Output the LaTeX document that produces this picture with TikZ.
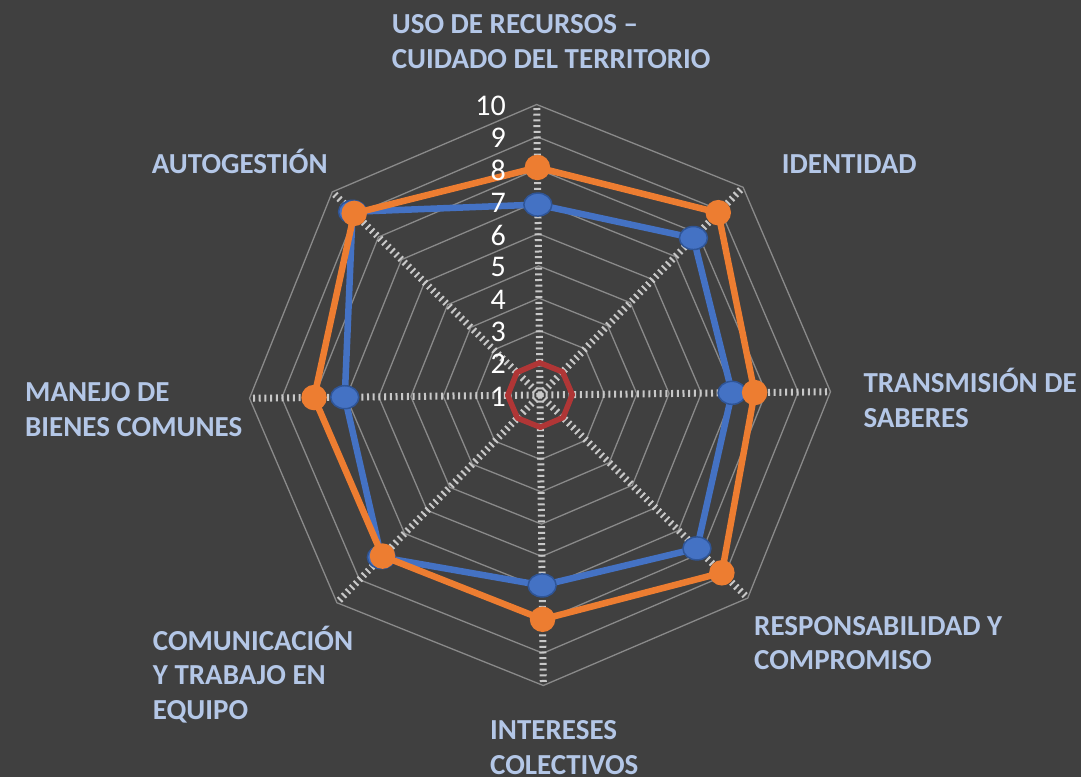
\documentclass[tikz,border=0pt]{standalone}
\usepackage{fontspec}
\setmainfont{Carlito}
\usetikzlibrary{shapes.geometric}
\definecolor{bgc}{HTML}{404040}
\definecolor{gridc}{HTML}{8A8A8A}
\definecolor{axisc}{HTML}{C8C8C8}
\definecolor{lblc}{HTML}{B4C7E7}
\definecolor{bluec}{HTML}{4472C4}
\definecolor{blueedge}{HTML}{2F5597}
\definecolor{orangec}{HTML}{ED7D31}
\definecolor{redc}{HTML}{B03636}
\newcommand{\lbltab}[1]{\begin{tabular}[t]{@{}l@{}}#1\end{tabular}}
\def\unitr{32.28}
\tikzset{
  gridline/.style={draw=gridc, line width=1.3pt},
  axisline/.style={draw=axisc, line width=7pt, dash pattern=on 2pt off 3.7pt},
  redline/.style={draw=redc, line width=5.5pt, line join=round},
  blueline/.style={draw=bluec, line width=6.5pt, line join=round},
  orangeline/.style={draw=orangec, line width=6.5pt, line join=round},
  bluemark/.style={ellipse, fill=bluec, draw=blueedge, line width=1.5pt, minimum width=28pt, minimum height=23pt, inner sep=0pt},
  orangemark/.style={circle, fill=orangec, minimum size=25.5pt, inner sep=0pt},
  lbl/.style={anchor=base west, inner sep=0pt, text=lblc, font=\bfseries\fontsize{29}{34.8}\selectfont},
  num/.style={anchor=east, inner sep=0pt, text=white, font=\fontsize{30}{31}\selectfont}
}
\begin{document}
\begin{tikzpicture}[x=1pt,y=1pt]
\useasboundingbox (0,0) rectangle (1081,777);
\fill[bgc] (0,0) rectangle (1081,777);
\begin{scope}[shift={(540,382)},rotate=0.65]
  \coordinate (ctr) at (0,0);
  % grid octagons
  \foreach \v in {2,...,10}{
    \draw[gridline] (90:{(\v-1)*\unitr}) \foreach \k in {1,...,7}{ -- ({90-45*\k}:{(\v-1)*\unitr}) } -- cycle;
  }
  % radial axes
  \foreach \k in {0,...,7}{
    \coordinate (ax\k) at ({90-45*\k}:{9*\unitr});
    \draw[axisline] (ctr) -- (ax\k);
  }
  % red series (all 2)
  \foreach \k in {0,...,7}{ \coordinate (r\k) at ({90-45*\k}:{\unitr}); }
  \draw[redline] (r0) -- (r1) -- (r2) -- (r3) -- (r4) -- (r5) -- (r6) -- (r7) -- cycle;
  % blue series
  \foreach \val [count=\k from 0] in {6.9,7.8,6.95,7.8,6.9,8.03,7.05,9.12}{
    \coordinate (b\k) at ({90-45*\k}:{(\val-1)*\unitr});
  }
  \draw[blueline] (b0) -- (b1) -- (b2) -- (b3) -- (b4) -- (b5) -- (b6) -- (b7) -- cycle;
  \foreach \k in {0,...,7}{ \node[bluemark] (bm\k) at (b\k) {}; }
  % orange series
  \foreach \val [count=\k from 0] in {8.05,8.9,7.65,8.88,7.95,7.98,8.0,9.05}{
    \coordinate (o\k) at ({90-45*\k}:{(\val-1)*\unitr});
  }
  \draw[orangeline] (o0) -- (o1) -- (o2) -- (o3) -- (o4) -- (o5) -- (o6) -- (o7) -- cycle;
  \foreach \k in {0,...,7}{ \node[orangemark] (om\k) at (o\k) {}; }
\end{scope}
% scale numbers
\foreach \v in {1,...,10}{
  \node[num] (n\v) at (506,{382+(\v-1)*32.28-1.5}) {\v};
}
% axis labels
\node[lbl] (t0) at (391.7,743.7) {\lbltab{USO DE RECURSOS –\\CUIDADO DEL TERRITORIO}};
\node[lbl] (t1) at (781.7,603.7) {IDENTIDAD};
\node[lbl] (t2) at (863.3,384.7) {\lbltab{TRANSMISIÓN DE\\SABERES}};
\node[lbl] (t3) at (754,142) {\lbltab{RESPONSABILIDAD Y\\COMPROMISO}};
\node[lbl] (t4) at (490,37.5) {\lbltab{INTERESES\\COLECTIVOS}};
\node[lbl] (t5) at (152.7,127) {\lbltab{COMUNICACIÓN\\Y TRABAJO EN\\EQUIPO}};
\node[lbl] (t6) at (25,375.3) {\lbltab{MANEJO DE\\BIENES COMUNES}};
\node[lbl] (t7) at (151.7,603.7) {AUTOGESTIÓN};
\end{tikzpicture}
\end{document}
